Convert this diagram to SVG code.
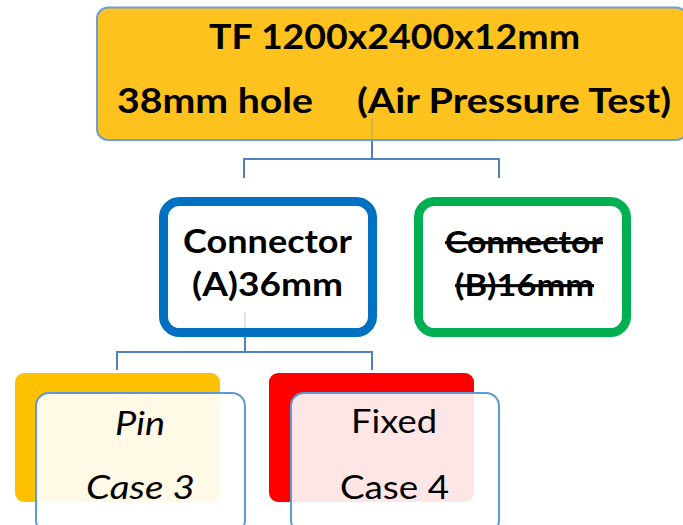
<svg xmlns="http://www.w3.org/2000/svg" width="683" height="525" viewBox="0 0 683 525">
<style>
.t{font-family:Lato,"Open Sans","Liberation Sans",sans-serif;fill:#000}
.b{font-weight:bold}
.c{fill:none;stroke:#4F81BD;stroke-width:2}
.f{fill:none;stroke:#4F81BD;stroke-width:2;stroke-opacity:0.2}
.front{fill:#fff;fill-opacity:0.9;stroke:#5B9BD5;stroke-width:2}
</style>
<rect width="683" height="525" fill="#fff"/>
<g id="top">
<rect x="97" y="7.5" width="590" height="132.5" rx="11" fill="#FDC21E" stroke="#6A9FD8" stroke-width="2"/>
<text class="t b" font-size="35" x="394.5" y="49" text-anchor="middle" textLength="371" lengthAdjust="spacingAndGlyphs">TF 1200x2400x12mm</text>
<text class="t b" font-size="35" y="113"><tspan x="117" textLength="196" lengthAdjust="spacingAndGlyphs">38mm hole</tspan><tspan x="357" textLength="314" lengthAdjust="spacingAndGlyphs">(Air Pressure Test)</tspan></text>
</g>
<g id="connA">
<rect x="163.5" y="201.5" width="209" height="131" rx="16" fill="#fff" stroke="#0070C0" stroke-width="9"/>
<text class="t b" font-size="32" x="267.5" y="253" text-anchor="middle" textLength="169" lengthAdjust="spacingAndGlyphs">Connector</text>
<text class="t b" font-size="32" x="267.5" y="296" text-anchor="middle" textLength="151" lengthAdjust="spacingAndGlyphs">(A)36mm</text>
</g>
<g id="connB">
<rect x="418.5" y="201.5" width="208" height="131" rx="16" fill="#fff" stroke="#00B050" stroke-width="9"/>
<text class="t b" font-size="31" x="524" y="253" text-anchor="middle" textLength="158" lengthAdjust="spacingAndGlyphs" text-decoration="line-through">Connector</text>
<text class="t b" font-size="31" x="524.5" y="296" text-anchor="middle" textLength="139" lengthAdjust="spacingAndGlyphs" text-decoration="line-through">(B)16mm</text>
</g>
<g id="connectors">
<path class="f" d="M372 118V139"/>
<path class="c" d="M372 141V159M244 178V159H499V178"/>
<path class="f" d="M245 312V328"/>
<path class="c" d="M245 337V352M117 370V352H372V370"/>
</g>
<g id="pin">
<rect x="15" y="373" width="205" height="129" rx="9" fill="#FFC000"/>
<rect x="36" y="393" width="209" height="140" rx="13" class="front"/>
<text class="t" font-size="32" font-style="italic" x="140" y="435" text-anchor="middle" textLength="50" lengthAdjust="spacingAndGlyphs">Pin</text>
<text class="t" font-size="32" font-style="italic" x="140.5" y="499" text-anchor="middle" textLength="109" lengthAdjust="spacingAndGlyphs">Case 3</text>
</g>
<g id="fixed">
<rect x="269" y="373" width="205" height="129" rx="9" fill="#FF0000"/>
<rect x="291" y="393" width="208" height="140" rx="13" class="front"/>
<text class="t" font-size="32" x="394" y="433" text-anchor="middle" textLength="86" lengthAdjust="spacingAndGlyphs">Fixed</text>
<text class="t" font-size="32" x="394.5" y="499" text-anchor="middle" textLength="109" lengthAdjust="spacingAndGlyphs">Case 4</text>
</g>
</svg>
